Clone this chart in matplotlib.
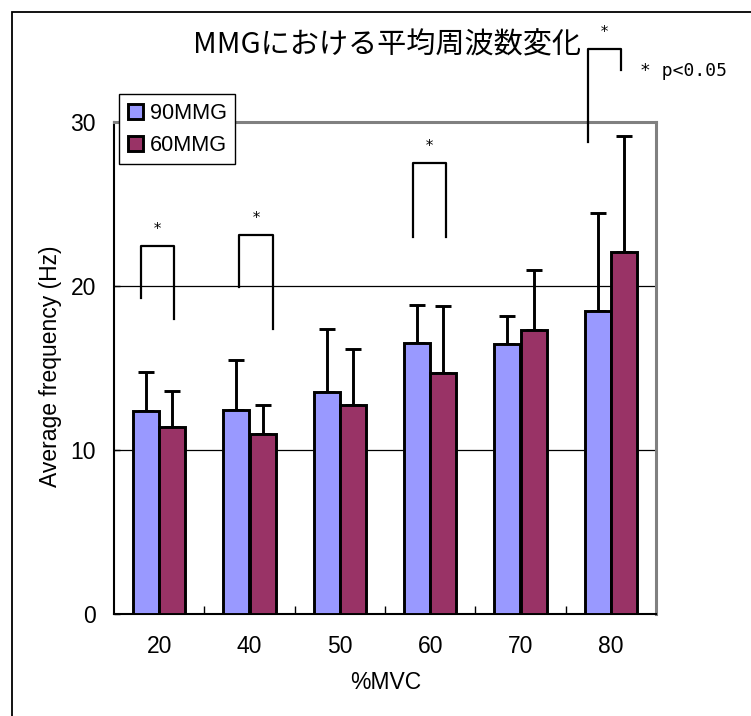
import matplotlib
matplotlib.use("Agg")
import matplotlib.pyplot as plt
import numpy as np
from matplotlib.patches import Rectangle

# %MVC levels and mean frequency (Hz) with SD for each condition
mvc = ["20", "40", "50", "60", "70", "80"]
mmg90_mean = [12.36, 12.46, 13.56, 16.52, 16.48, 18.48]
mmg90_sd = [2.38, 3.03, 3.84, 2.32, 1.69, 5.97]
mmg60_mean = [11.40, 11.00, 12.72, 14.72, 17.30, 22.09]
mmg60_sd = [2.20, 1.72, 3.44, 4.04, 3.70, 7.06]

# significance brackets: (left x, right x, top, left leg bottom, right leg bottom)
brackets = [
    (-0.198, 0.163, 22.46, 19.29, 18.00),
    (0.887, 1.260, 23.09, 19.94, 17.36),
    (2.813, 3.175, 27.52, 23.00, 23.00),
    (4.751, 5.113, 34.47, 28.80, 33.17),
]

blue = "#9999FF"
red = "#993366"
txt_font = ["Liberation Sans", "DejaVu Sans"]

fig = plt.figure(figsize=(7.51, 7.16), dpi=100)
ax = fig.add_axes([114 / 751, 1 - 614 / 716, 542 / 751, 492 / 716])

x = np.arange(len(mvc))
w = 0.288
ax.bar(x - w / 2, mmg90_mean, w, color=blue, edgecolor="black", linewidth=2.1,
       label="90MMG", zorder=3)
ax.bar(x + w / 2, mmg60_mean, w, color=red, edgecolor="black", linewidth=2.1,
       label="60MMG", zorder=3)
zeros = np.zeros(len(mvc))
ax.errorbar(x - w / 2, mmg90_mean, yerr=[zeros, mmg90_sd], fmt="none", ecolor="black",
            elinewidth=2.1, capsize=5.5, capthick=2.1, zorder=2)
ax.errorbar(x + w / 2, mmg60_mean, yerr=[zeros, mmg60_sd], fmt="none", ecolor="black",
            elinewidth=2.1, capsize=5.5, capthick=2.1, zorder=2)

for xl, xr, top, bl, br in brackets:
    ax.plot([xl, xl, xr, xr], [bl, top, top, br], color="black", lw=1.6,
            clip_on=False, zorder=4)
    ax.text((xl + xr) / 2, top + 0.55, "*", ha="center", va="bottom", fontsize=11,
            family="DejaVu Sans Mono", clip_on=False)

ax.set_xlim(-0.5, len(mvc) - 0.5)
ax.set_ylim(0, 30)
ax.set_yticks([0, 10, 20, 30])
ax.set_xticks(x)
ax.set_xticklabels(mvc)
ax.set_xticks(np.arange(0.5, len(mvc) - 0.5), minor=True)
ax.tick_params(axis="x", which="major", length=0, pad=15)
ax.tick_params(axis="x", which="minor", direction="in", length=6, width=1)
ax.tick_params(axis="y", direction="in", length=4, width=1, pad=13)
for lab in ax.get_xticklabels() + ax.get_yticklabels():
    lab.set_family(txt_font)
    lab.set_fontsize(16.5)

ax.yaxis.grid(True, color="black", linewidth=0.9, zorder=0)
ax.set_axisbelow(True)
for side in ["left", "bottom"]:
    ax.spines[side].set_color("black")
    ax.spines[side].set_linewidth(1.5)
for side in ["top", "right"]:
    ax.spines[side].set_color("#808080")
    ax.spines[side].set_linewidth(2.2)

leg = ax.legend(loc="upper left", bbox_to_anchor=(119.3 / 751, 1 - 94.3 / 716),
                bbox_transform=fig.transFigure, prop={"family": txt_font, "size": 15.6},
                frameon=True, fancybox=False, framealpha=1, edgecolor="black",
                handlelength=0.7, handleheight=0.7, handletextpad=0.3,
                labelspacing=0.5, borderpad=0.4, borderaxespad=0)
leg.get_frame().set_linewidth(1.0)
leg.set_zorder(5)

fig.text(386.5 / 751, 1 - 45 / 716, "MMGにおける平均周波数変化", ha="center", va="center",
         fontsize=21, family=["Noto Sans CJK JP", "DejaVu Sans"])
fig.text(639.5 / 751, 1 - 70.7 / 716, "* p<0.05", ha="left", va="center",
         fontsize=13, family="DejaVu Sans Mono")
fig.text(50 / 751, 1 - 366 / 716, "Average frequency (Hz)", ha="center", va="center",
         rotation=90, fontsize=16.5, family=txt_font)
fig.text(386 / 751, 1 - 682.5 / 716, "%MVC", ha="center", va="center",
         fontsize=16.5, family=txt_font)

# outer chart frame, open to the right and bottom
fig.patches.append(Rectangle((11.7 / 751, -0.2), 1.2, 1.2 - 12.3 / 716, fill=False,
                             edgecolor="black", linewidth=1.3, transform=fig.transFigure,
                             figure=fig))

fig.savefig("out.png", dpi=100)
